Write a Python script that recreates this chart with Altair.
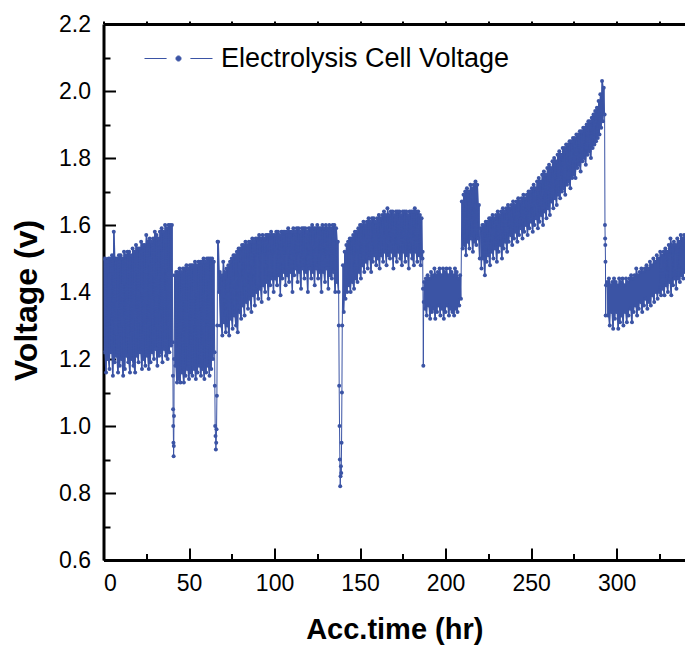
import altair as alt
import pandas as pd

# ---------------- data ----------------
# Each segment: start hour, upper-envelope values (one per hour), lower-envelope values (one per hour)
seg_A_start = 0.0
hi_A = [1.50,1.50,1.49,1.50,1.50, 1.51,1.58,1.50,1.50,1.51, 1.51,1.50,1.52,1.51,1.52,
        1.52,1.51,1.53,1.52,1.54, 1.53,1.53,1.55,1.54,1.54, 1.57,1.55,1.56,1.55,1.56,
        1.58,1.57,1.56,1.58,1.59, 1.58,1.60,1.59,1.60,1.60, 1.60]
lo_A = [1.22,1.16,1.20,1.17,1.22, 1.15,1.19,1.21,1.16,1.18, 1.20,1.15,1.17,1.21,1.19,
        1.16,1.20,1.18,1.16,1.21, 1.19,1.22,1.17,1.20,1.18, 1.21,1.17,1.19,1.22,1.20,
        1.23,1.18,1.21,1.22,1.19, 1.23,1.21,1.20,1.22,1.24, 1.25]

seg_B_start = 41.5
hi_B = [1.45,1.46,1.46,1.47,1.46, 1.47,1.47,1.48,1.47,1.48, 1.48,1.48,1.49,1.48,1.49,
        1.49,1.49,1.50,1.49,1.50, 1.50,1.50,1.50,1.49]
lo_B = [1.18,1.13,1.14,1.13,1.16, 1.13,1.15,1.17,1.14,1.16, 1.15,1.17,1.14,1.16,1.18,
        1.15,1.17,1.14,1.16,1.18, 1.15,1.17,1.20,1.22]

seg_C_start = 67.0
hi_C = [1.55,1.46,1.45,1.49,1.46, 1.47,1.48,1.49,1.50,1.51, 1.51,1.52,1.53,1.53,1.54,
        1.54,1.55,1.54,1.55,1.55, 1.56,1.55,1.56,1.56,1.57, 1.56,1.57,1.56,1.57,1.57,
        1.57,1.58,1.57,1.57,1.58, 1.58,1.57,1.58,1.58,1.58, 1.58,1.59,1.58,1.58,1.59,
        1.58,1.59,1.59,1.58,1.59, 1.59,1.59,1.58,1.59,1.59, 1.60,1.59,1.59,1.60,1.59,
        1.59,1.60,1.59,1.60,1.59, 1.60,1.59,1.60,1.60,1.59, 1.55]
lo_C = [1.40,1.30,1.27,1.31,1.28, 1.30,1.27,1.32,1.29,1.33, 1.30,1.28,1.34,1.32,1.36,
        1.33,1.37,1.35,1.38,1.34, 1.39,1.36,1.40,1.38,1.41, 1.37,1.42,1.40,1.43,1.38,
        1.42,1.44,1.40,1.44,1.42, 1.45,1.39,1.44,1.46,1.42, 1.45,1.43,1.46,1.40,1.45,
        1.47,1.43,1.46,1.41,1.47, 1.44,1.46,1.40,1.47,1.44, 1.46,1.42,1.47,1.44,1.46,
        1.40,1.46,1.43,1.47,1.41, 1.45,1.44,1.46,1.40,1.43, 1.40]

seg_D_start = 140.0
hi_D = [1.48,1.52,1.54,1.55,1.56, 1.56,1.57,1.58,1.58,1.59, 1.60,1.60,1.61,1.60,1.61,
        1.62,1.61,1.62,1.62,1.61, 1.62,1.63,1.62,1.63,1.64, 1.63,1.65,1.63,1.64,1.64,
        1.63,1.64,1.64,1.64,1.63, 1.64,1.64,1.64,1.63,1.64, 1.64,1.64,1.65,1.64,1.64,
        1.63,1.62]
lo_D = [1.34,1.38,1.40,1.42,1.40, 1.43,1.41,1.44,1.43,1.46, 1.44,1.48,1.46,1.49,1.47,
        1.50,1.46,1.49,1.51,1.48, 1.50,1.47,1.51,1.49,1.52, 1.48,1.51,1.50,1.52,1.47,
        1.51,1.49,1.52,1.50,1.48, 1.52,1.49,1.51,1.47,1.52, 1.50,1.48,1.52,1.49,1.51,
        1.48,1.50]

seg_E_start = 187.5
hi_E = [1.43,1.44,1.45,1.44,1.46, 1.45,1.47,1.45,1.46,1.47, 1.45,1.47,1.46,1.47,1.45,
        1.47,1.46,1.45,1.47,1.46, 1.44,1.45]
lo_E = [1.35,1.33,1.36,1.32,1.34, 1.35,1.32,1.34,1.36,1.33, 1.35,1.32,1.34,1.36,1.33,
        1.35,1.34,1.33,1.35,1.34, 1.36,1.38]

seg_F_start = 209.5
hi_F = [1.67,1.69,1.70,1.71,1.70, 1.72,1.71,1.72,1.73,1.72, 1.66]
lo_F = [1.53,1.54,1.51,1.55,1.53, 1.56,1.52,1.55,1.54,1.56, 1.50]

seg_G_start = 220.5
hi_G = [1.59,1.60,1.60,1.61,1.61, 1.62,1.62,1.63,1.62,1.63, 1.64,1.63,1.64,1.65,1.64,
        1.65,1.66,1.65,1.66,1.67, 1.66,1.67,1.68,1.67,1.68, 1.69,1.68,1.69,1.70,1.70,
        1.71,1.72,1.71,1.73,1.74, 1.73,1.75,1.76,1.75,1.77, 1.78,1.77,1.79,1.80,1.79,
        1.81,1.82,1.81,1.83,1.83, 1.84,1.84,1.85,1.85,1.86, 1.86,1.87,1.87,1.88,1.88,
        1.89,1.89,1.90,1.91,1.91, 1.92,1.93,1.94,1.95,1.97, 1.99,2.03,2.01]
lo_G = [1.47,1.50,1.45,1.49,1.51, 1.48,1.52,1.50,1.53,1.49, 1.52,1.54,1.50,1.53,1.55,
        1.52,1.55,1.57,1.54,1.56, 1.58,1.55,1.57,1.59,1.56, 1.58,1.60,1.57,1.59,1.61,
        1.58,1.60,1.62,1.59,1.61, 1.63,1.60,1.64,1.62,1.65, 1.63,1.67,1.65,1.68,1.66,
        1.69,1.68,1.70,1.71,1.69, 1.72,1.73,1.71,1.74,1.75, 1.74,1.77,1.78,1.76,1.79,
        1.80,1.78,1.81,1.82,1.80, 1.83,1.84,1.85,1.86,1.87, 1.89,1.91,1.93]

seg_H_start = 294.5
hi_H = [1.43,1.44,1.42,1.43,1.44, 1.43,1.42,1.44,1.43,1.44, 1.42,1.44,1.43,1.44,1.45,
        1.44,1.45,1.47,1.45,1.46, 1.47,1.46,1.47,1.48,1.47, 1.49,1.48,1.50,1.49,1.51,
        1.50,1.52,1.51,1.52,1.53, 1.52,1.54,1.56,1.54,1.55, 1.54,1.56,1.55,1.57,1.56,
        1.57]
lo_H = [1.33,1.30,1.34,1.29,1.32, 1.34,1.29,1.31,1.33,1.30, 1.34,1.31,1.33,1.35,1.31,
        1.34,1.36,1.33,1.35,1.37, 1.34,1.36,1.38,1.35,1.37, 1.36,1.39,1.37,1.40,1.38,
        1.40,1.39,1.41,1.39,1.42, 1.40,1.43,1.39,1.42,1.44, 1.41,1.44,1.43,1.45,1.44,
        1.46]

# Sharp dips between segments (hour, voltage)
dip1_t = [40.6, 40.7, 40.8, 40.9, 41.0, 41.1, 41.2, 41.3]
dip1_v = [1.15, 1.05, 1.00, 0.95, 0.91, 0.94, 1.03, 1.20]
dip2_t = [65.1, 65.3, 65.5, 65.7, 65.9, 66.1, 66.3, 66.5, 66.7]
dip2_v = [1.12, 1.00, 0.97, 0.93, 0.95, 0.99, 1.09, 1.30, 1.55]
dip3_t = [137.6, 137.8, 138.0, 138.2, 138.4, 138.6, 138.8, 139.0, 139.2, 139.4, 139.6]
dip3_v = [1.30, 1.12, 1.00, 0.90, 0.82, 0.85, 0.88, 0.86, 0.95, 1.10, 1.30]
dip4_t = [186.6, 186.8, 187.0, 187.2]
dip4_v = [1.52, 1.41, 1.18, 1.37]
dip5_t = [293.2, 293.3, 293.4, 293.5, 293.6, 293.8]
dip5_v = [1.60, 1.56, 1.54, 1.49, 1.33, 1.42]

series_name = "Electrolysis Cell Voltage"
x_major = [0, 50, 100, 150, 200, 250, 300]
x_minor = [25, 75, 125, 175, 225, 275, 325]
x_top = [0, 25, 50, 75, 100, 125, 150, 175, 200, 225, 250, 275, 300, 325]
y_major = [0.6, 0.8, 1.0, 1.2, 1.4, 1.6, 1.8, 2.0, 2.2]
y_minor = [0.7, 0.9, 1.1, 1.3, 1.5, 1.7, 1.9, 2.1]

# ---------------- build tables ----------------
segments = [(seg_A_start, hi_A, lo_A), (seg_B_start, hi_B, lo_B), (seg_C_start, hi_C, lo_C),
            (seg_D_start, hi_D, lo_D), (seg_E_start, hi_E, lo_E), (seg_F_start, hi_F, lo_F),
            (seg_G_start, hi_G, lo_G), (seg_H_start, hi_H, lo_H)]
dips = [(dip1_t, dip1_v), (dip2_t, dip2_v), (dip3_t, dip3_v), (dip4_t, dip4_v), (dip5_t, dip5_v)]

ts, vs = [], []
band_rows = []
for k, (start, hi, lo) in enumerate(segments):
    assert len(hi) == len(lo)
    for i, (h, l) in enumerate(zip(hi, lo)):
        ts += [start + i, start + i + 0.5]
        vs += [h, l]
        band_rows.append({"seg": k, "t": start + i, "hi": h, "lo": l})
        band_rows.append({"seg": k, "t": start + i + 0.5, "hi": h, "lo": l})
for dt, dv in dips:
    ts += dt
    vs += dv
df = pd.DataFrame({"t": ts, "v": vs}).sort_values("t").reset_index(drop=True)
df["series"] = series_name
band = pd.DataFrame(band_rows)

tick_df = pd.DataFrame({"t": [x_major[0]], "v": [y_major[0]]})

# ---------------- style ----------------
BLUE = "#3B54A5"
FONT = "Liberation Sans"
W, H = 581.5, 536
xs = alt.Scale(domain=[0, 340], nice=False, zero=False)
ys = alt.Scale(domain=[0.6, 2.2], nice=False, zero=False)

SYM = "M-1,0L-0.35,0M0.35,0L1,0M-0.075,0A0.075,0.075,0,1,1,0.075,0A0.075,0.075,0,1,1,-0.075,0Z"

area = alt.Chart(band).mark_area(color=BLUE, opacity=1, clip=True).encode(
    x=alt.X("t:Q", scale=xs, axis=None),
    y=alt.Y("hi:Q", scale=ys, axis=None),
    y2="lo:Q",
    detail="seg:N",
)

line = alt.Chart(df).mark_line(strokeWidth=1, clip=True).encode(
    x=alt.X("t:Q", scale=xs, axis=alt.Axis(
        orient="bottom", values=x_major, ticks=False, grid=False,
        domain=True, domainWidth=3, domainColor="black",
        labelFont=FONT, labelFontSize=23, labelColor="black", labelPadding=12,
        title="Acc.time (hr)", titleFont=FONT, titleFontSize=29, titleFontWeight="bold",
        titleColor="black", titleBaseline="alphabetic", titleY=78)),
    y=alt.Y("v:Q", scale=ys, axis=alt.Axis(
        orient="left", values=y_major, format=".1f", ticks=False, grid=False,
        domain=True, domainWidth=3, domainColor="black",
        labelFont=FONT, labelFontSize=23, labelColor="black", labelPadding=13,
        title="Voltage (v)", titleFont=FONT, titleFontSize=32, titleFontWeight="bold",
        titleColor="black", titleBaseline="alphabetic", titleAngle=270, titleX=-67, titleY=276)),
    color=alt.Color("series:N", scale=alt.Scale(range=[BLUE]), legend=alt.Legend(
        title=None, orient="none", legendX=40.5, legendY=0, padding=0,
        symbolType=SYM, symbolSize=4624, symbolStrokeWidth=1,
        symbolFillColor=BLUE, symbolStrokeColor=BLUE,
        labelFont=FONT, labelFontSize=27, labelColor="black", labelOffset=8, labelLimit=500)),
)

points = alt.Chart(df).mark_circle(size=16, color=BLUE, opacity=1, clip=True).encode(
    x=alt.X("t:Q", scale=xs, axis=None),
    y=alt.Y("v:Q", scale=ys, axis=None),
)

def tick_layer(xvals, yvals, size):
    xa = alt.Axis(orient="bottom", values=xvals, offset=-size,
                  tickSize=size, tickWidth=2, tickColor="black", domain=False, labels=False,
                  grid=False, title=None)
    ya = alt.Axis(orient="left", values=yvals, offset=-size,
                  tickSize=size, tickWidth=2, tickColor="black", domain=False, labels=False,
                  grid=False, title=None)
    return alt.Chart(tick_df).mark_point(opacity=0).encode(
        x=alt.X("t:Q", scale=xs, axis=xa),
        y=alt.Y("v:Q", scale=ys, axis=ya),
    )

major_ticks = tick_layer(x_major, y_major, 12)
minor_ticks = tick_layer(x_minor, y_minor, 6.5)

top_axis = alt.Chart(tick_df).mark_point(opacity=0).encode(
    x=alt.X("t:Q", scale=xs, axis=alt.Axis(
        orient="top", values=x_top, offset=0, tickSize=3, tickWidth=2, tickColor="black",
        domain=True, domainWidth=3, domainColor="black", labels=False, grid=False, title=None)),
    y=alt.Y("v:Q", scale=ys, axis=None),
)

chart = alt.layer(area, line, points, major_ticks, minor_ticks, top_axis).resolve_axis(
    x="independent", y="independent"
).properties(
    width=W, height=H,
    autosize=alt.AutoSizeParams(type="none"),
    padding={"left": 103.5, "top": 24, "right": 0, "bottom": 85},
    background="white",
).configure_view(stroke=None)

chart.save("out.html", embed_options={"renderer": "svg", "actions": False})
